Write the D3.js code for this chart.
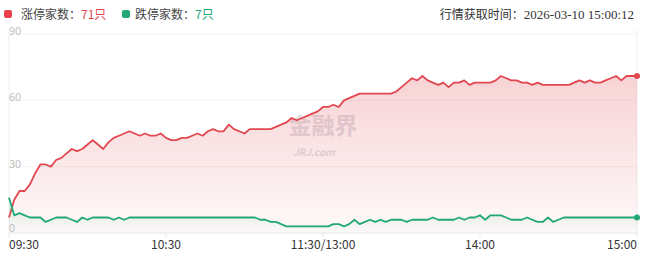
<!DOCTYPE html>
<html>
<head>
<meta charset="utf-8">
<script src="https://cdn.jsdelivr.net/npm/d3@7"></script>
<style>
  body { margin: 0; background: #fff; }
  svg { display: block; font-family: "Noto Sans CJK SC", "Noto Sans", sans-serif; }
</style>
</head>
<body>
<script>
// one value every 2 minutes, 09:30-11:30 then 13:00-15:00 (index 0..240)
var step = 2;
var upCount = [
  7,15,19,19,22,27,31,31,30,33,
  34,36,38,37,38,40,42,40,38,41,
  43,44,45,46,45,44,45,44,44,45,
  43,42,42,43,43,44,45,44,46,47,
  46,46,49,47,46,45,47,47,47,47,
  47,48,49,50,52,51,52,53,54,55,
  57,57,58,57,60,61,62,63,63,63,
  63,63,63,63,64,66,68,70,69,71,
  69,68,67,68,66,68,68,69,67,68,
  68,68,68,69,71,70,69,69,68,68,
  67,68,67,67,67,67,67,67,68,69,
  68,69,68,68,69,70,71,69,71,71,
  71
];
var downCount = [
  16,8,9,8,7,7,7,5,6,7,
  7,7,6,5,7,6,7,7,7,7,
  6,7,6,7,7,7,7,7,7,7,
  7,7,7,7,7,7,7,7,7,7,
  7,7,7,7,7,7,7,7,6,6,
  5,5,4,3,3,3,3,3,3,3,
  3,3,4,4,3,4,6,4,5,6,
  5,6,5,6,6,6,5,6,6,6,
  6,7,6,6,6,6,7,6,7,7,
  8,6,8,8,8,7,6,6,6,7,
  6,5,5,7,5,6,7,7,7,7,
  7,7,7,7,7,7,7,7,7,7,
  7
];
var tickIndex = [0, 60, 120, 180, 240];
var tickLabels = ["09:30", "10:30", "11:30/13:00", "14:00", "15:00"];
var yTicks = [0, 30, 60, 90];

var width = 650, height = 259;
var red = "#e2474f", green = "#22a877";

var svg = d3.select("body").append("svg")
    .attr("width", width)
    .attr("height", height);

var x = d3.scaleLinear().domain([0, 240]).range([9, 637]);
var y = d3.scaleLinear().domain([0, 90]).range([233, 34]);

var defs = svg.append("defs");
var g1 = defs.append("linearGradient").attr("id", "redFill")
    .attr("x1", 0).attr("y1", 0).attr("x2", 0).attr("y2", 1);
g1.append("stop").attr("offset", "0%").attr("stop-color", red).attr("stop-opacity", 0.24);
g1.append("stop").attr("offset", "100%").attr("stop-color", red).attr("stop-opacity", 0.03);
var g2 = defs.append("linearGradient").attr("id", "greenFill")
    .attr("x1", 0).attr("y1", 0).attr("x2", 0).attr("y2", 1);
g2.append("stop").attr("offset", "0%").attr("stop-color", green).attr("stop-opacity", 0.16);
g2.append("stop").attr("offset", "100%").attr("stop-color", green).attr("stop-opacity", 0);

// gridlines
svg.append("g").selectAll("line")
    .data(yTicks.slice(1))
    .enter().append("line")
    .attr("x1", 9).attr("x2", 637)
    .attr("y1", function(d) { return y(d); })
    .attr("y2", function(d) { return y(d); })
    .attr("stroke", "#f3f3f3");

svg.append("line").attr("x1", 9).attr("x2", 9).attr("y1", 30).attr("y2", 233).attr("stroke", "#eee");
svg.append("line").attr("x1", 637).attr("x2", 637).attr("y1", 30).attr("y2", 233).attr("stroke", "#eee");

// watermark
var wm = svg.append("g").attr("fill", "#d9d9e0").attr("opacity", 0.8);
wm.append("text").attr("x", 323).attr("y", 134).attr("text-anchor", "middle")
    .attr("font-size", 23).attr("font-weight", "bold").text("金融界");
wm.append("text").attr("x", 314).attr("y", 156).attr("text-anchor", "middle")
    .attr("font-size", 10).attr("font-weight", "bold").attr("font-style", "italic").text("JRJ.com");

function series(values, color, fillId) {
    var area = d3.area()
        .x(function(d, i) { return x(i * step); })
        .y0(y(0))
        .y1(function(d) { return y(d); });
    var line = d3.line()
        .x(function(d, i) { return x(i * step); })
        .y(function(d) { return y(d); });
    svg.append("path").datum(values).attr("d", area).attr("fill", "url(#" + fillId + ")");
    svg.append("path").datum(values).attr("d", line)
        .attr("fill", "none").attr("stroke", color).attr("stroke-width", 1.8)
        .attr("stroke-linejoin", "round");
    var last = values.length - 1;
    svg.append("circle").attr("cx", x(last * step)).attr("cy", y(values[last]))
        .attr("r", 3).attr("fill", color);
}
series(upCount, red, "redFill");
series(downCount, green, "greenFill");

// y labels inside the plot
svg.append("g").selectAll("text")
    .data(yTicks)
    .enter().append("text")
    .attr("x", 9)
    .attr("y", function(d) { return d === 0 ? y(d) - 4 : y(d) - 2; })
    .attr("dominant-baseline", "middle")
    .attr("font-size", 11)
    .attr("fill", "#c0c0c0")
    .text(function(d) { return d; });

// x axis
svg.append("line").attr("x1", 9).attr("x2", 637).attr("y1", 233).attr("y2", 233).attr("stroke", "#e6e6e6");
svg.append("g").selectAll("line")
    .data(tickIndex)
    .enter().append("line")
    .attr("x1", function(d) { return x(d); }).attr("x2", function(d) { return x(d); })
    .attr("y1", 233).attr("y2", 237)
    .attr("stroke", "#e6e6e6");
svg.append("g").selectAll("text")
    .data(tickIndex)
    .enter().append("text")
    .attr("x", function(d) { return x(d); })
    .attr("y", 249)
    .attr("text-anchor", function(d, i) { return i === 0 ? "start" : (i === tickIndex.length - 1 ? "end" : "middle"); })
    .attr("font-size", 12)
    .attr("fill", "#333")
    .text(function(d, i) { return tickLabels[i]; });

// header legend
var upLast = upCount[upCount.length - 1], downLast = downCount[downCount.length - 1];
svg.append("rect").attr("x", 4).attr("y", 10).attr("width", 8).attr("height", 8).attr("rx", 2).attr("fill", "#e8414b");
var t1 = svg.append("text").attr("x", 21).attr("y", 19).attr("font-size", 12).attr("fill", "#444");
t1.append("tspan").text("涨停家数：");
t1.append("tspan").attr("fill", red).text(upLast + "只");
svg.append("rect").attr("x", 122).attr("y", 10).attr("width", 8).attr("height", 8).attr("rx", 2).attr("fill", green);
var t2 = svg.append("text").attr("x", 135).attr("y", 19).attr("font-size", 12).attr("fill", "#444");
t2.append("tspan").text("跌停家数：");
t2.append("tspan").attr("fill", green).text(downLast + "只");

var t3 = svg.append("text").attr("x", 634).attr("y", 19).attr("text-anchor", "end")
    .attr("font-size", 12).attr("fill", "#333");
t3.append("tspan").text("行情获取时间：");
t3.append("tspan").attr("font-family", "Liberation Serif").attr("font-size", 13).text("2026-03-10 15:00:12");
</script>
</body>
</html>
